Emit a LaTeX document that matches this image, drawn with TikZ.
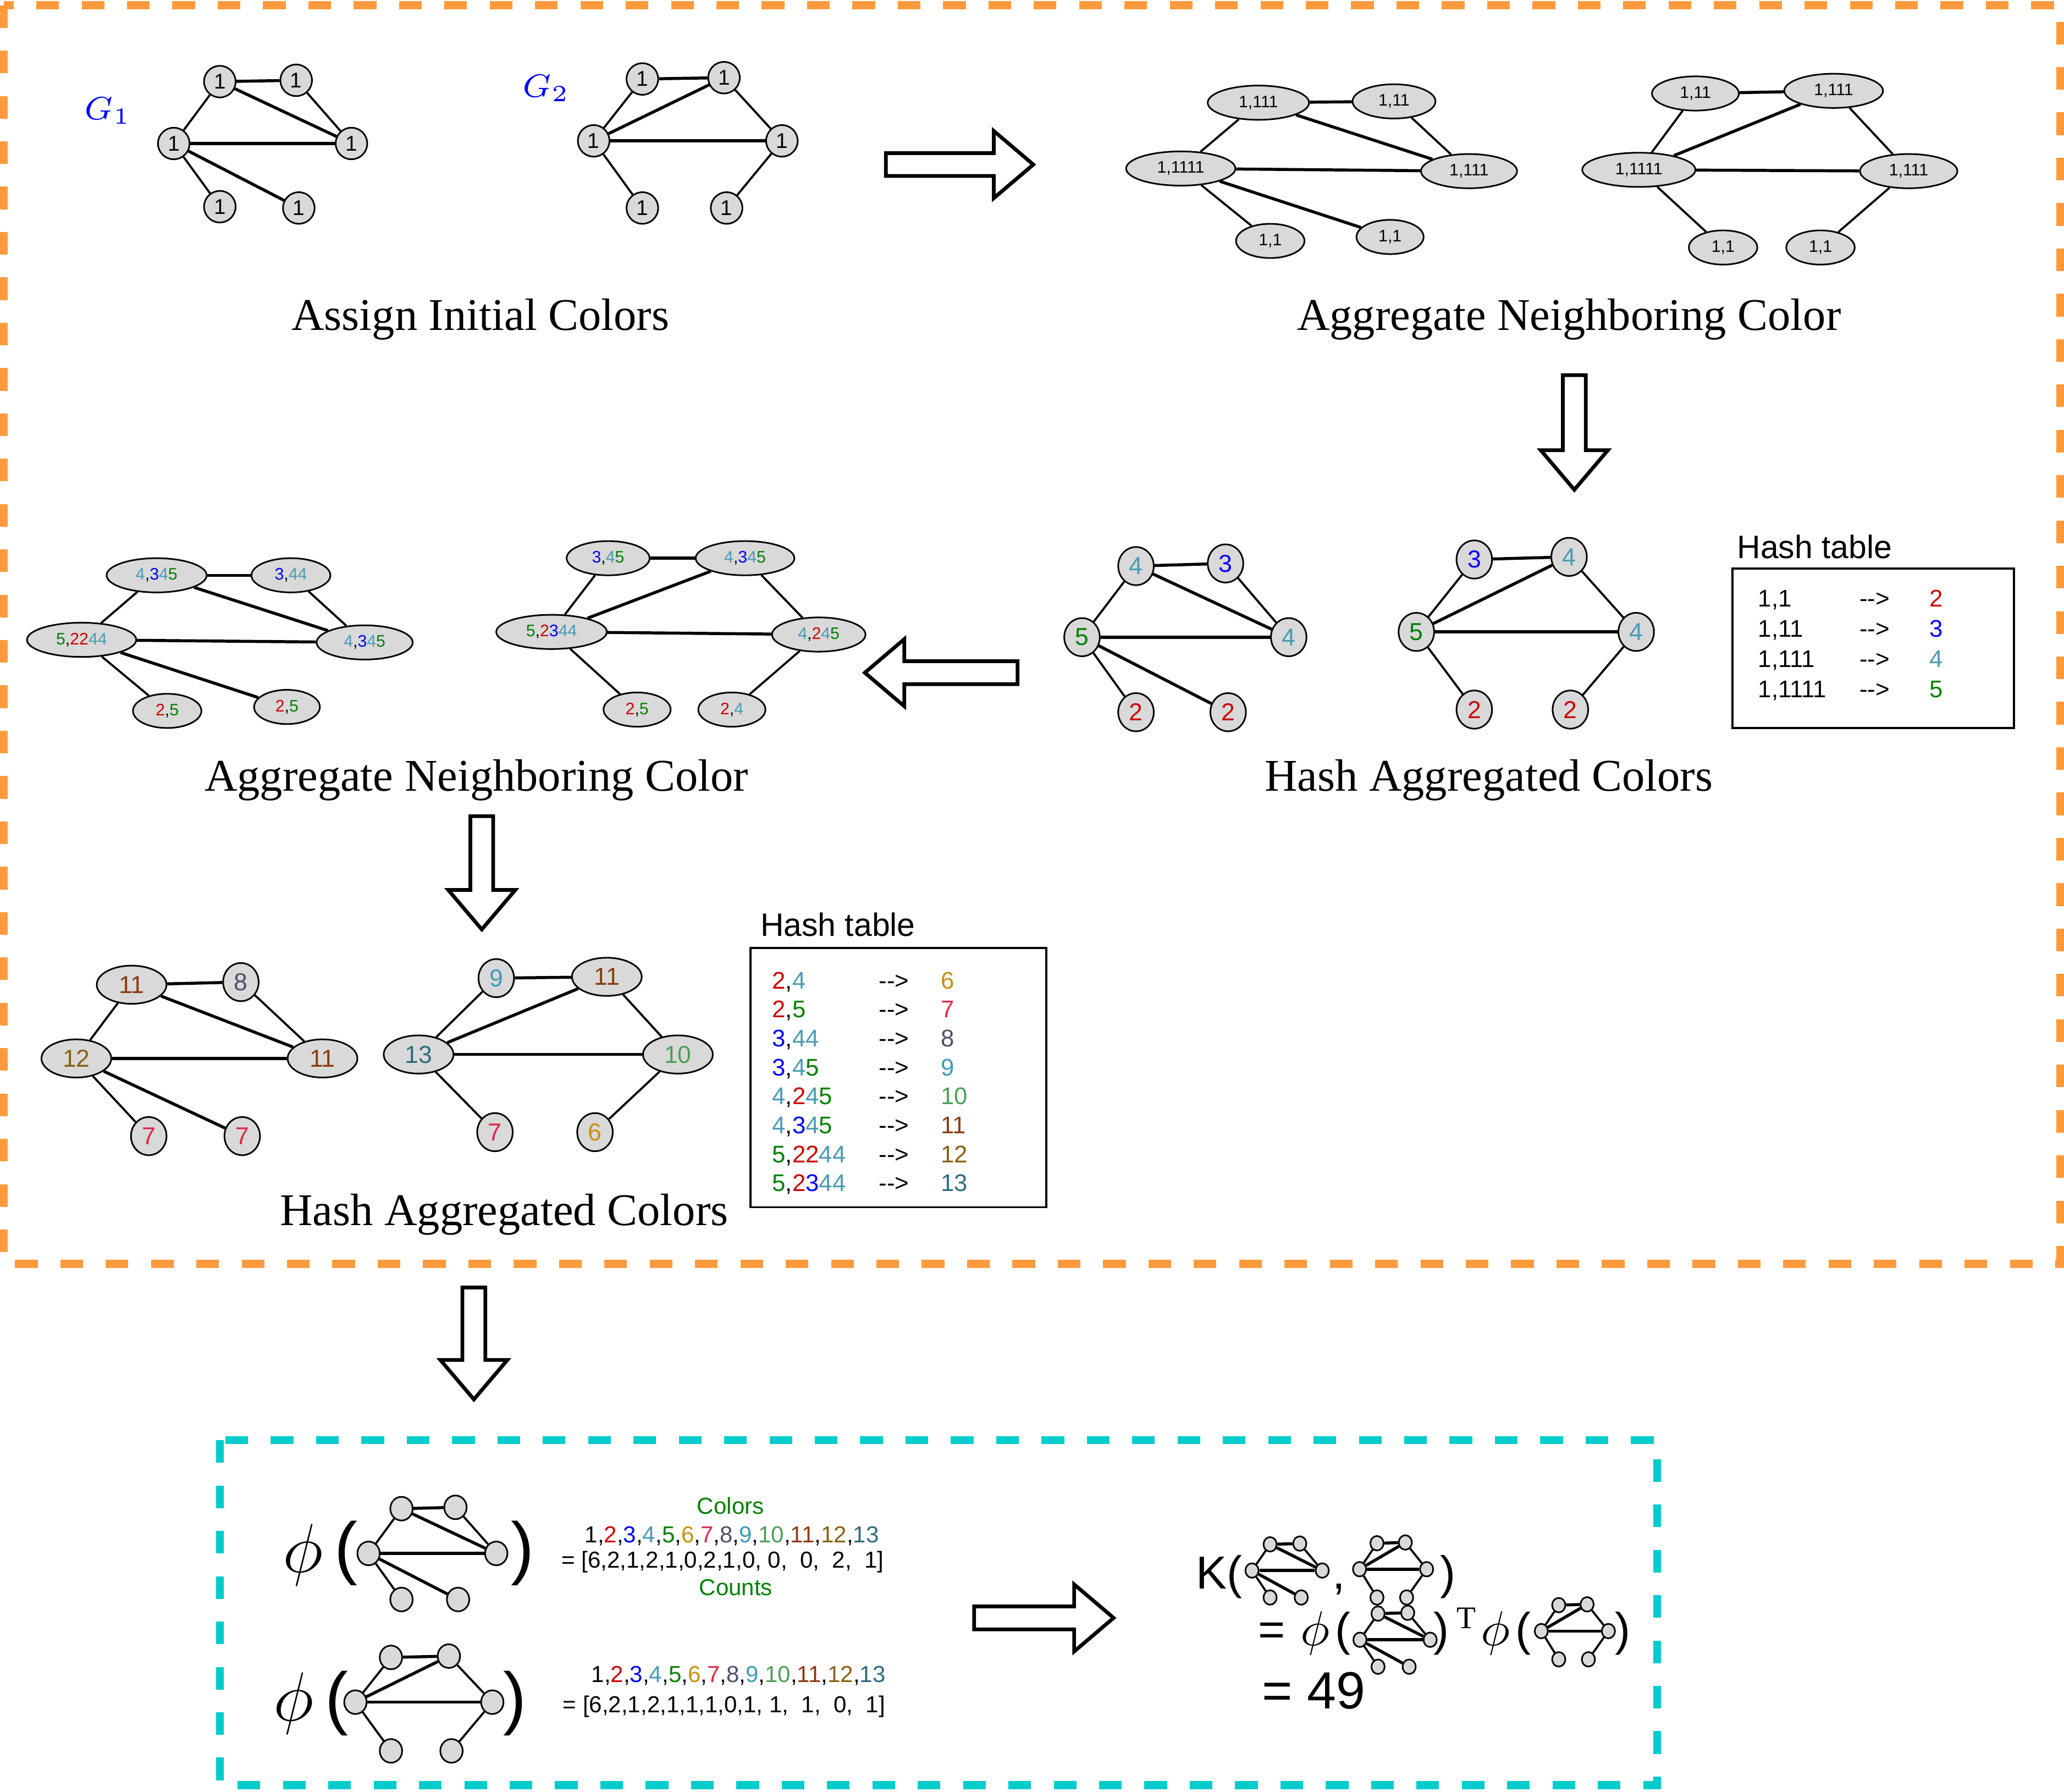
\documentclass[tikz,border=0pt]{standalone}
\usepackage{fix-cm}
\usepackage{fontspec}
\setmainfont{Liberation Serif}
\setsansfont{Liberation Sans}
\usepackage{tikz}
\usetikzlibrary{shapes.geometric}

\definecolor{nodegray}{HTML}{D9D9D9}
\definecolor{borange}{HTML}{FF9A3C}
\definecolor{bcyan}{HTML}{00CCCC}
\definecolor{gblue}{HTML}{0000FF}
\definecolor{c2}{HTML}{CC0000}
\definecolor{c3}{HTML}{0000FF}
\definecolor{c4}{HTML}{4A9AB4}
\definecolor{c5}{HTML}{008000}
\definecolor{c6}{HTML}{C8900C}
\definecolor{c7}{HTML}{E02848}
\definecolor{c8}{HTML}{4A5068}
\definecolor{c9}{HTML}{3C9CB8}
\definecolor{c10}{HTML}{4E9E56}
\definecolor{c11}{HTML}{8B3A12}
\definecolor{c12}{HTML}{8A6010}
\definecolor{c13}{HTML}{2E6B80}

\newcommand\ktwo[1]{\textcolor{c2}{#1}}
\newcommand\kthree[1]{\textcolor{c3}{#1}}
\newcommand\kfour[1]{\textcolor{c4}{#1}}
\newcommand\kfive[1]{\textcolor{c5}{#1}}
\newcommand\colorlist{1,\ktwo{2},\kthree{3},\kfour{4},\kfive{5},\textcolor{c6}{6},\textcolor{c7}{7},\textcolor{c8}{8},\textcolor{c9}{9},\textcolor{c10}{10},\textcolor{c11}{11},\textcolor{c12}{12},\textcolor{c13}{13}}

\newcommand\linksone[1]{%
  \draw[thk] (#1-tl) -- (#1-tr);
  \draw[thk] (#1-tl) -- (#1-r);
  \draw[thn] (#1-tr) -- (#1-r);
  \draw[thn] (#1-l) -- (#1-tl);
  \draw[thk] (#1-l) -- (#1-r);
  \draw[thn] (#1-l) -- (#1-bl);
  \draw[thk] (#1-l) -- (#1-br);}
\newcommand\linkstwo[1]{%
  \draw[thk] (#1-tl) -- (#1-tr);
  \draw[thk] (#1-tr) -- (#1-l);
  \draw[thn] (#1-tr) -- (#1-r);
  \draw[thn] (#1-tl) -- (#1-l);
  \draw[thk] (#1-l) -- (#1-r);
  \draw[thn] (#1-l) -- (#1-bl);
  \draw[thn] (#1-r) -- (#1-br);}
\newcommand\blockarrow[4]{%
  \pgfmathsetmacro\arrowhb{#4-30}%
  \draw[arrowbody, shift={(#1,#2)}, rotate=#3]
    (0,-8.7) -- (\arrowhb,-8.7) -- (\arrowhb,-25.5) -- (#4,0)
    -- (\arrowhb,25.5) -- (\arrowhb,8.7) -- (0,8.7) -- cycle;}

\tikzset{
  vtx/.style={draw, fill=nodegray, line width=0.35pt, inner sep=0pt},
  initv/.style={vtx, circle, minimum size=2.4mm, font=\sffamily\fontsize{4.6}{5}\selectfont},
  aggv/.style={vtx, ellipse, minimum height=2.6mm, font=\sffamily\fontsize{3.6}{4}\selectfont},
  hashv/.style={vtx, ellipse, minimum width=2.7mm, minimum height=2.9mm, font=\sffamily\fontsize{5.3}{6}\selectfont},
  widev/.style={minimum width=5.3mm},
  tnode/.style={vtx, ellipse, minimum width=1.7mm, minimum height=1.8mm},
  thn/.style={line width=0.45pt},
  thk/.style={line width=0.65pt},
  captext/.style={anchor=base, inner sep=0pt, font=\fontsize{9.8}{11}\selectfont},
  htitle/.style={anchor=base west, inner sep=0pt, font=\sffamily\fontsize{7}{8}\selectfont},
  hentry/.style={anchor=base west, inner sep=0pt, font=\sffamily\fontsize{5.2}{6}\selectfont},
  vecs/.style={anchor=base, inner sep=0pt, font=\sffamily\fontsize{5.0}{6}\selectfont},
  kfont/.style={anchor=base, inner sep=0pt, font=\sffamily\fontsize{10}{12}\selectfont},
  bigparen/.style={inner sep=0pt, font=\sffamily\fontsize{15}{15}\selectfont},
  tablebox/.style={line width=0.45pt},
  arrowbody/.style={line width=0.8pt, fill=white, line join=miter},
  dashframe/.style={line width=1.7pt, dash pattern=on 4.9pt off 4.9pt},
  thumbone/.pic={
    \node[tnode] (-tl) at (-23.5,-34) {};
    \node[tnode] (-tr) at (17.5,-35) {};
    \node[tnode] (-l) at (-48.5,0) {};
    \node[tnode] (-r) at (48.5,0) {};
    \node[tnode] (-bl) at (-23.5,35) {};
    \node[tnode] (-br) at (19.5,35) {};
    \linksone{}
  },
  thumbtwo/.pic={
    \node[tnode] (-tl) at (-25,-34) {};
    \node[tnode] (-tr) at (19,-35) {};
    \node[tnode] (-l) at (-52,0) {};
    \node[tnode] (-r) at (52,0) {};
    \node[tnode] (-bl) at (-25,37) {};
    \node[tnode] (-br) at (21,37) {};
    \linkstwo{}
  },
  smallthumb/.style={tnode/.append style={minimum width=1.0mm, minimum height=1.1mm}}
}

\begin{document}
\begin{tikzpicture}[x=0.1mm, y=-0.1mm]
  \useasboundingbox (0,0) rectangle (1568,1361);

  \draw[dashframe, draw=borange] (3,4) rectangle (1565,960);
  \draw[dashframe, draw=bcyan] (167,1094) rectangle (1259,1356);

  \node[text=gblue, font=\fontsize{7}{8}\selectfont] (gone) at (82,84) {$G_1$};
  \node[text=gblue, font=\fontsize{7}{8}\selectfont] (gtwo) at (415,67) {$G_2$};

  \node[initv] (ia-tl) at (167,62) {1};
  \node[initv] (ia-tr) at (225,61) {1};
  \node[initv] (ia-l) at (132,109) {1};
  \node[initv] (ia-r) at (267,109) {1};
  \node[initv] (ia-bl) at (167,157) {1};
  \node[initv] (ia-br) at (227,158) {1};
  \linksone{ia}

  \node[initv] (ib-tl) at (488,60) {1};
  \node[initv] (ib-tr) at (550,59) {1};
  \node[initv] (ib-l) at (451,107) {1};
  \node[initv] (ib-r) at (594,107) {1};
  \node[initv] (ib-bl) at (488,158) {1};
  \node[initv] (ib-br) at (552,158) {1};
  \linkstwo{ib}

  \node[captext] (t-init) at (365,251) {Assign Initial Colors};

  \blockarrow{673}{125}{0}{112}

  \node[aggv, minimum width=7.7mm] (aa-tl) at (956,78) {1,111};
  \node[aggv, minimum width=6.3mm] (aa-tr) at (1059,77) {1,11};
  \node[aggv, minimum width=8.3mm] (aa-l) at (897,128) {1,1111};
  \node[aggv, minimum width=7.3mm] (aa-r) at (1116,130) {1,111};
  \node[aggv, minimum width=5.2mm] (aa-bl) at (965,183) {1,1};
  \node[aggv, minimum width=5.1mm] (aa-br) at (1056,180) {1,1};
  \linksone{aa}

  \node[aggv, minimum width=6.6mm] (ab-tl) at (1288,71) {1,11};
  \node[aggv, minimum width=7.5mm] (ab-tr) at (1393,69) {1,111};
  \node[aggv, minimum width=8.6mm] (ab-l) at (1245,129) {1,1111};
  \node[aggv, minimum width=7.4mm] (ab-r) at (1450,130) {1,111};
  \node[aggv, minimum width=5.2mm] (ab-bl) at (1309,188) {1,1};
  \node[aggv, minimum width=5.2mm] (ab-br) at (1383,188) {1,1};
  \linkstwo{ab}

  \node[captext] (t-agg1) at (1192,251) {Aggregate Neighboring Color};

  \blockarrow{1196}{285}{-90}{87}

  \node[hashv, text=c4] (ha-tl) at (863,430) {4};
  \node[hashv, text=c3] (ha-tr) at (931,428) {3};
  \node[hashv, text=c5] (ha-l) at (822,484) {5};
  \node[hashv, text=c4] (ha-r) at (979,484) {4};
  \node[hashv, text=c2] (ha-bl) at (863,541) {2};
  \node[hashv, text=c2] (ha-br) at (933,541) {2};
  \linksone{ha}

  \node[hashv, text=c3] (hb-tl) at (1120,425) {3};
  \node[hashv, text=c4] (hb-tr) at (1192,423) {4};
  \node[hashv, text=c5] (hb-l) at (1076,480) {5};
  \node[hashv, text=c4] (hb-r) at (1243,480) {4};
  \node[hashv, text=c2] (hb-bl) at (1120,539) {2};
  \node[hashv, text=c2] (hb-br) at (1193,539) {2};
  \linkstwo{hb}

  \node[htitle] (ht-one) at (1319,424) {Hash table};
  \draw[tablebox] (1316,432) rectangle (1530,553);
  \node[hentry] (ka1) at (1335,461) {1,1};
  \node[hentry] (ar1) at (1412,461) {-{}-{}>};
  \node[hentry, text=c2] (va1) at (1465,461) {2};
  \node[hentry] (ka2) at (1335,484) {1,11};
  \node[hentry] (ar2) at (1412,484) {-{}-{}>};
  \node[hentry, text=c3] (va2) at (1465,484) {3};
  \node[hentry] (ka3) at (1335,507) {1,111};
  \node[hentry] (ar3) at (1412,507) {-{}-{}>};
  \node[hentry, text=c4] (va3) at (1465,507) {4};
  \node[hentry] (ka4) at (1335,530) {1,1111};
  \node[hentry] (ar4) at (1412,530) {-{}-{}>};
  \node[hentry, text=c5] (va4) at (1465,530) {5};

  \node[captext] (t-hash1) at (1131,601) {Hash Aggregated Colors};

  \blockarrow{773}{511}{180}{116}

  \node[aggv, minimum width=7.6mm] (ca-tl) at (119,437) {\kfour{4},\kthree{3}\kfour{4}\kfive{5}};
  \node[aggv, minimum width=6.0mm] (ca-tr) at (221,437) {\kthree{3},\kfour{44}};
  \node[aggv, minimum width=8.3mm] (ca-l) at (62,486) {\kfive{5},\ktwo{22}\kfour{44}};
  \node[aggv, minimum width=7.3mm] (ca-r) at (277,488) {\kfour{4},\kthree{3}\kfour{4}\kfive{5}};
  \node[aggv, minimum width=5.2mm] (ca-bl) at (127,540) {\ktwo{2},\kfive{5}};
  \node[aggv, minimum width=5.0mm] (ca-br) at (218,537) {\ktwo{2},\kfive{5}};
  \linksone{ca}

  \node[aggv, minimum width=6.3mm] (cb-tl) at (462,424) {\kthree{3},\kfour{4}\kfive{5}};
  \node[aggv, minimum width=7.5mm] (cb-tr) at (566,424) {\kfour{4},\kthree{3}\kfour{4}\kfive{5}};
  \node[aggv, minimum width=8.4mm] (cb-l) at (419,480) {\kfive{5},\ktwo{2}\kthree{3}\kfour{44}};
  \node[aggv, minimum width=7.1mm] (cb-r) at (622,482) {\kfour{4},\ktwo{2}\kfour{4}\kfive{5}};
  \node[aggv, minimum width=5.1mm] (cb-bl) at (484,539) {\ktwo{2},\kfive{5}};
  \node[aggv, minimum width=5.1mm] (cb-br) at (556,539) {\ktwo{2},\kfour{4}};
  \linkstwo{cb}

  \node[captext] (t-agg2) at (362,601) {Aggregate Neighboring Color};

  \blockarrow{366}{620}{-90}{86}

  \node[hashv, widev, text=c11] (da-tl) at (100,748) {11};
  \node[hashv, text=c8] (da-tr) at (183,746) {8};
  \node[hashv, widev, text=c12] (da-l) at (58,804) {12};
  \node[hashv, widev, text=c11] (da-r) at (245,804) {11};
  \node[hashv, text=c7] (da-bl) at (113,863) {7};
  \node[hashv, text=c7] (da-br) at (184,863) {7};
  \linksone{da}

  \node[hashv, text=c9] (db-tl) at (377,743) {9};
  \node[hashv, widev, text=c11] (db-tr) at (461,742) {11};
  \node[hashv, widev, text=c13] (db-l) at (318,801) {13};
  \node[hashv, widev, text=c10] (db-r) at (515,801) {10};
  \node[hashv, text=c7] (db-bl) at (376,860) {7};
  \node[hashv, text=c6] (db-br) at (452,860) {6};
  \linkstwo{db}

  \node[htitle] (ht-two) at (577,711) {Hash table};
  \draw[tablebox] (570,720) rectangle (795,917);
  \node[hentry] (kb1) at (586,751) {\ktwo{2},\kfour{4}};
  \node[hentry] (br1) at (667,751) {-{}-{}>};
  \node[hentry, text=c6] (vb1) at (714,751) {6};
  \node[hentry] (kb2) at (586,773) {\ktwo{2},\kfive{5}};
  \node[hentry] (br2) at (667,773) {-{}-{}>};
  \node[hentry, text=c7] (vb2) at (714,773) {7};
  \node[hentry] (kb3) at (586,795) {\kthree{3},\kfour{44}};
  \node[hentry] (br3) at (667,795) {-{}-{}>};
  \node[hentry, text=c8] (vb3) at (714,795) {8};
  \node[hentry] (kb4) at (586,817) {\kthree{3},\kfour{4}\kfive{5}};
  \node[hentry] (br4) at (667,817) {-{}-{}>};
  \node[hentry, text=c9] (vb4) at (714,817) {9};
  \node[hentry] (kb5) at (586,839) {\kfour{4},\ktwo{2}\kfour{4}\kfive{5}};
  \node[hentry] (br5) at (667,839) {-{}-{}>};
  \node[hentry, text=c10] (vb5) at (714,839) {10};
  \node[hentry] (kb6) at (586,861) {\kfour{4},\kthree{3}\kfour{4}\kfive{5}};
  \node[hentry] (br6) at (667,861) {-{}-{}>};
  \node[hentry, text=c11] (vb6) at (714,861) {11};
  \node[hentry] (kb7) at (586,883) {\kfive{5},\ktwo{22}\kfour{44}};
  \node[hentry] (br7) at (667,883) {-{}-{}>};
  \node[hentry, text=c12] (vb7) at (714,883) {12};
  \node[hentry] (kb8) at (586,905) {\kfive{5},\ktwo{2}\kthree{3}\kfour{44}};
  \node[hentry] (br8) at (667,905) {-{}-{}>};
  \node[hentry, text=c13] (vb8) at (714,905) {13};

  \node[captext] (t-hash2) at (383,931) {Hash Aggregated Colors};

  \blockarrow{360}{978}{-90}{85}

  \node[font=\fontsize{15}{15}\selectfont] (phi-one) at (230,1181) {$\phi$};
  \node[bigparen] (po-one) at (263,1180) {(};
  \pic (pa) at (328.5,1180) {thumbone};
  \node[bigparen] (pc-one) at (397,1180) {)};
  \node[vecs, text=c5] (colhead) at (555,1150) {Colors};
  \node[vecs] (colrow1) at (556,1172) {\colorlist};
  \node[vecs] (cntrow1) at (549,1191) {= [6,2,1,2,1,0,2,1,0, 0,\ \ 0,\ \ 2,\ \ 1]};
  \node[vecs, text=c5] (cnthead) at (559,1212) {Counts};

  \node[font=\fontsize{15}{15}\selectfont] (phi-two) at (223,1294) {$\phi$};
  \node[bigparen] (po-two) at (256,1294) {(};
  \pic (pb) at (322,1293) {thumbtwo};
  \node[bigparen] (pc-two) at (391,1294) {)};
  \node[vecs] (colrow2) at (561,1278) {\colorlist};
  \node[vecs] (cntrow2) at (550,1301) {= [6,2,1,2,1,1,1,0,1, 1,\ \ 1,\ \ 0,\ \ 1]};

  \blockarrow{740}{1229}{0}{106}

  \node[kfont, anchor=base west] (kk) at (908,1207) {K(};
  \pic[xscale=0.55, yscale=0.585, smallthumb] (ka) at (977.8,1193) {thumbone};
  \node[kfont] (kcomma) at (1017,1207) {,};
  \pic[xscale=0.49, yscale=0.58, smallthumb] (kb) at (1058.3,1192) {thumbtwo};
  \node[kfont] (kclose) at (1100,1207) {)};

  \node[kfont] (keq) at (966,1250) {=};
  \node[anchor=base, inner sep=0pt, font=\fontsize{10.6}{12}\selectfont] (kphia) at (999,1250) {$\phi$};
  \node[kfont] (kopa) at (1020,1250) {(};
  \pic[xscale=0.55, yscale=0.585, smallthumb] (kc) at (1059.8,1245.6) {thumbone};
  \node[kfont] (kcla) at (1095,1250) {)};
  \node[anchor=base, inner sep=0pt, font=\fontsize{6.8}{8}\selectfont] (ktr) at (1114,1237) {T};
  \node[anchor=base, inner sep=0pt, font=\fontsize{10.6}{12}\selectfont] (kphib) at (1136,1250) {$\phi$};
  \node[kfont] (kopb) at (1157,1250) {(};
  \pic[xscale=0.49, yscale=0.58, smallthumb] (kd) at (1196.4,1239) {thumbtwo};
  \node[kfont] (kclb) at (1233,1250) {)};

  \node[kfont, anchor=base west, font=\sffamily\fontsize{11.3}{13}\selectfont] (kres) at (958,1298) {= 49};
\end{tikzpicture}
\end{document}
